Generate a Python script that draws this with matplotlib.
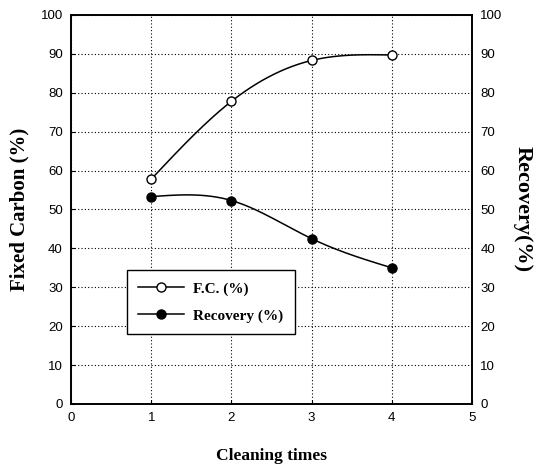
import numpy as np
import matplotlib.pyplot as plt
from matplotlib.lines import Line2D

# data
cleaning_times = [1, 2, 3, 4]
fixed_carbon = [57.8, 77.8, 88.3, 89.7]
recovery = [53.3, 52.3, 42.5, 35.0]

x_ticks = [0, 1, 2, 3, 4, 5]
y_ticks = [0, 10, 20, 30, 40, 50, 60, 70, 80, 90, 100]


def naturalSpline(x, y, num=200):
  """
  Natural cubic spline through the points, used only to draw the smooth line.
  """
  x = np.asarray(x, float)
  y = np.asarray(y, float)
  n = len(x)
  h = np.diff(x)
  A = np.zeros((n, n))
  b = np.zeros(n)
  A[0, 0] = 1
  A[-1, -1] = 1
  for i in range(1, n - 1):
    A[i, i - 1] = h[i - 1]
    A[i, i] = 2 * (h[i - 1] + h[i])
    A[i, i + 1] = h[i]
    b[i] = 3 * ((y[i + 1] - y[i]) / h[i] - (y[i] - y[i - 1]) / h[i - 1])
  c = np.linalg.solve(A, b)
  xs = np.linspace(x[0], x[-1], num)
  ys = np.empty_like(xs)
  for k, xv in enumerate(xs):
    i = min(np.searchsorted(x, xv, side="right") - 1, n - 2)
    bi = (y[i + 1] - y[i]) / h[i] - h[i] * (2 * c[i] + c[i + 1]) / 3
    di = (c[i + 1] - c[i]) / (3 * h[i])
    t = xv - x[i]
    ys[k] = y[i] + bi * t + c[i] * t**2 + di * t**3
  return xs, ys


serif = ["Liberation Serif", "DejaVu Serif"]
sans = ["Liberation Sans", "DejaVu Sans"]

fig = plt.figure(figsize=(5.43, 4.67), dpi=100)
ax = fig.add_axes([0.131, 0.135, 0.738, 0.833])

xs, ys = naturalSpline(cleaning_times, fixed_carbon)
ax.plot(xs, ys, color="black", linewidth=1.1, zorder=2)
xs, ys = naturalSpline(cleaning_times, recovery)
ax.plot(xs, ys, color="black", linewidth=1.1, zorder=2)

ax.plot(cleaning_times, fixed_carbon, linestyle="none", marker="o", markersize=6.5,
        markerfacecolor="white", markeredgecolor="black", markeredgewidth=1.0, zorder=3)
ax.plot(cleaning_times, recovery, linestyle="none", marker="o", markersize=6.5,
        markerfacecolor="black", markeredgecolor="black", zorder=3)

ax.set_xlim(0, 5)
ax.set_ylim(0, 100)
ax.set_xticks(x_ticks)
ax.set_yticks(y_ticks)
ax.grid(True, linestyle=(0, (1, 2)), color="black", linewidth=0.8)
ax.tick_params(direction="in", length=3, labelsize=9.5, pad=6)
for lab in ax.get_xticklabels() + ax.get_yticklabels():
  lab.set_family(sans)

ax2 = ax.twinx()
ax2.set_ylim(0, 100)
ax2.set_yticks(y_ticks)
ax2.tick_params(direction="in", length=0, labelsize=9.5, pad=6)
for lab in ax2.get_yticklabels():
  lab.set_family(sans)

for a in (ax, ax2):
  for s in a.spines.values():
    s.set_linewidth(1.2)

ax.set_xlabel("Cleaning times", family=serif, fontsize=12.5, fontweight="bold", labelpad=17)
ax.set_ylabel("Fixed Carbon (%)", family=serif, fontsize=15, fontweight="bold", labelpad=8)
ax2.set_ylabel("Recovery(%)", family=serif, fontsize=16, fontweight="bold",
               rotation=-90, labelpad=22)

handles = [
  Line2D([], [], color="black", linewidth=1.1, marker="o", markersize=6.5,
         markerfacecolor="white", markeredgecolor="black"),
  Line2D([], [], color="black", linewidth=1.1, marker="o", markersize=6.5,
         markerfacecolor="black", markeredgecolor="black"),
]
leg = ax2.legend(handles, ["F.C. (%)", "Recovery (%)"], loc="lower left",
                 bbox_to_anchor=(0.12, 0.16), frameon=True, fancybox=False,
                 edgecolor="black", framealpha=1, borderpad=0.75, handlelength=3.0,
                 labelspacing=0.85, handletextpad=0.6,
                 prop={"family": serif, "weight": "bold", "size": 11})
leg.get_frame().set_linewidth(1.0)

fig.savefig("out.png", dpi=100)
